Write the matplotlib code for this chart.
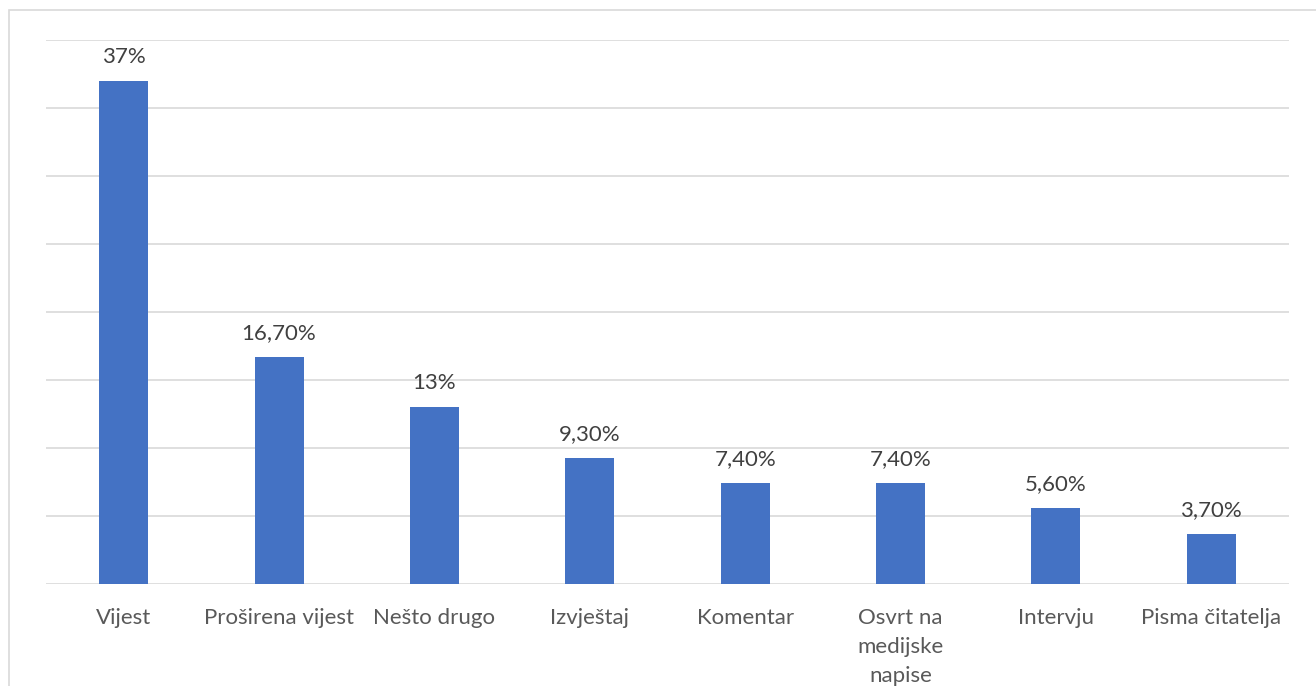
import matplotlib
matplotlib.use("Agg")
import matplotlib.pyplot as plt
from matplotlib.patches import Rectangle

categories = ["Vijest", "Proširena vijest", "Nešto drugo", "Izvještaj", "Komentar",
              "Osvrt na\nmedijske\nnapise", "Intervju", "Pisma čitatelja"]
values = [37, 16.7, 13, 9.3, 7.4, 7.4, 5.6, 3.7]
value_labels = ["37%", "16,70%", "13%", "9,30%", "7,40%", "7,40%", "5,60%", "3,70%"]

plt.rcParams['font.family'] = ['Lato', 'DejaVu Sans']
W, H = 1316, 686
fig = plt.figure(figsize=(W / 100, H / 100), dpi=100)

# outer border
fig.patches.append(Rectangle((9 / W, -0.1), 1.2, 1 - 10 / H + 0.1, transform=fig.transFigure,
                             fill=False, edgecolor="#d9d9d9", linewidth=1.2))

left, right, top, bottom = 46, 1289, 40, 584
ax = fig.add_axes([left / W, 1 - bottom / H, (right - left) / W, (bottom - top) / H])

x = range(len(categories))
ax.bar(x, values, width=0.315, color="#4472C4", zorder=3)
ax.set_xlim(-0.5, len(categories) - 0.5)
ax.set_ylim(0, 40)
ax.set_yticks(range(0, 41, 5))
ax.yaxis.grid(True, color="#d9d9d9", linewidth=1.2, zorder=0)
ax.tick_params(axis='y', left=False, labelleft=False)
ax.tick_params(axis='x', bottom=False, pad=14)
ax.set_xticks(list(x))
ax.set_xticklabels(categories, fontsize=16, color="#595959", linespacing=1.55, va='top')
for s in ax.spines.values():
    s.set_visible(False)

for xi, v, lab in zip(x, values, value_labels):
    ax.annotate(lab, (xi, v), xytext=(0, 10), textcoords="offset points",
                ha='center', va='bottom', fontsize=16, color="#404040")

fig.savefig("out.png", dpi=100)
